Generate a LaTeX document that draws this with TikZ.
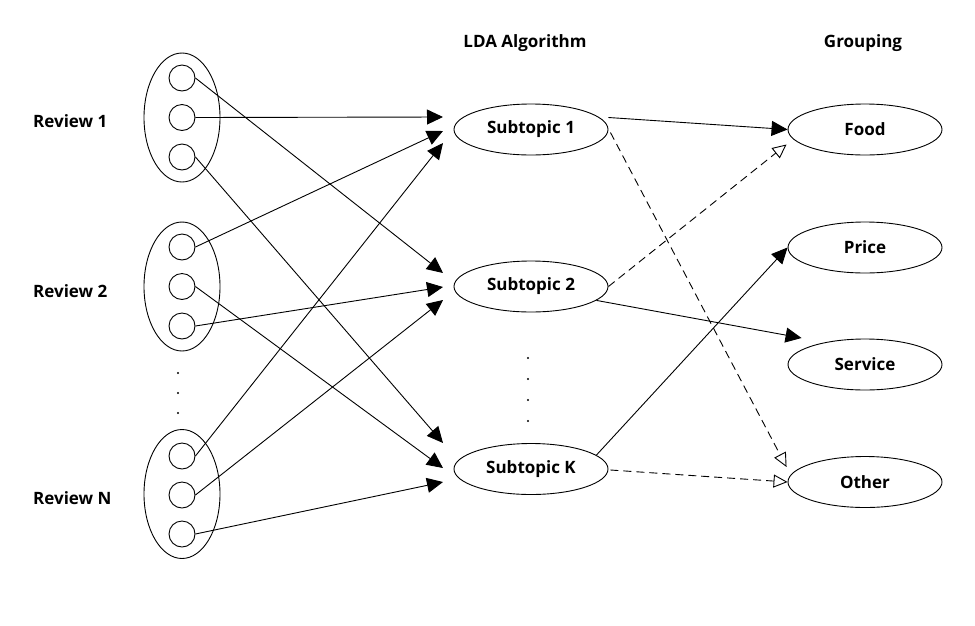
\documentclass[tikz,border=0pt]{standalone}
\usepackage{fontspec}
\setmainfont{Open Sans}
\usetikzlibrary{shapes.geometric,arrows.meta,calc}
\begin{document}
\begin{tikzpicture}[x=1pt,y=-1pt,
  lbl/.style={font=\bfseries\fontsize{17}{19}\selectfont,inner sep=0pt},
  bigell/.style={draw,ellipse,line width=0.9pt,minimum width=76pt,minimum height=129pt,inner sep=0pt},
  smallc/.style={draw,circle,line width=0.9pt,minimum size=26pt,inner sep=0pt},
  topic/.style={draw,ellipse,line width=0.9pt,minimum width=154pt,minimum height=51pt,inner sep=0pt,font=\bfseries\fontsize{17}{19}\selectfont},
  arr/.style={line width=0.9pt,-{Triangle[length=16pt,width=15pt]}},
  darr/.style={line width=0.9pt,dash pattern=on 8pt off 5pt,-{Triangle[open,length=14pt,width=13pt]}},
  dotn/.style={circle,fill,inner sep=0pt,minimum size=2.2pt}]
\useasboundingbox (0,0) rectangle (975,625);
% review groups
\node[bigell] (r1) at (182,117.5) {};
\node[bigell] (r2) at (182,286.5) {};
\node[bigell] (rn) at (182,494) {};
\node[smallc] (r1a) at (182,78) {};
\node[smallc] (r1b) at (182,117.5) {};
\node[smallc] (r1c) at (182,157) {};
\node[smallc] (r2a) at (182,247) {};
\node[smallc] (r2b) at (182,286.5) {};
\node[smallc] (r2c) at (182,326) {};
\node[smallc] (rna) at (182,456) {};
\node[smallc] (rnb) at (182,495) {};
\node[smallc] (rnc) at (182,534) {};
\node[lbl,anchor=west] (l1) at (33,121) {Review 1};
\node[lbl,anchor=west] (l2) at (33,291) {Review 2};
\node[lbl,anchor=west] (ln) at (33,498) {Review N};
\node[dotn] (d1) at (178,373) {};
\node[dotn] (d2) at (178,393) {};
\node[dotn] (d3) at (178,413) {};
% headers
\node[lbl] (hlda) at (525,43) {LDA Algorithm};
\node[lbl] (hgrp) at (863,43) {Grouping};
% subtopics
\node[topic] (s1) at (531,129.5) {Subtopic 1};
\node[topic] (s2) at (531,286.5) {Subtopic 2};
\node[topic] (sk) at (531,469) {Subtopic K};
\node[dotn] (m1) at (528,358) {};
\node[dotn] (m2) at (528,379) {};
\node[dotn] (m3) at (528,400) {};
\node[dotn] (m4) at (528,421) {};
% groups
\node[topic] (food) at (865,129.5) {Food};
\node[topic] (price) at (865,247.5) {Price};
\node[topic] (service) at (865,364.5) {Service};
\node[topic] (other) at (865,482) {Other};
% arrow end points
\coordinate (s1i1) at (443,117);
\coordinate (s1i2) at (443,131);
\coordinate (s1i3) at (443,143);
\coordinate (s2i1) at (443,273);
\coordinate (s2i2) at (443,287);
\coordinate (s2i3) at (443,300);
\coordinate (ski1) at (443,443);
\coordinate (ski2) at (443,468);
\coordinate (ski3) at (443,482);
\draw[arr] (r1b.east) -- (s1i1);
\draw[arr] (r2a.east) -- (s1i2);
\draw[arr] (rna.east) -- (s1i3);
\draw[arr] (r1a.east) -- (s2i1);
\draw[arr] (r2c.east) -- (s2i2);
\draw[arr] (rnb.east) -- (s2i3);
\draw[arr] (r1c.east) -- (ski1);
\draw[arr] (r2b.east) -- (ski2);
\draw[arr] (rnc.east) -- (ski3);
% right side
\draw[arr] ($(s1.east)+(0,-12)$) -- (food.west);
\draw[darr] ($(s1.east)+(2,3)$) -- ($(other.west)+(-1,-15)$);
\draw[darr] (s2.east) -- ($(food.west)+(-1,15)$);
\draw[arr] (s2.-12) -- ($(service.west)+(14,-26.5)$);
\draw[arr] (sk.12) -- (price.west);
\draw[darr] ($(sk.east)+(2,1)$) -- (other.west);
\end{tikzpicture}
\end{document}
